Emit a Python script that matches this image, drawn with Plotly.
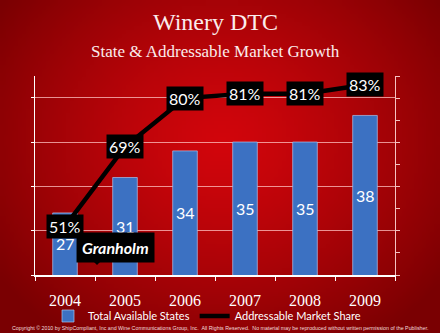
import base64
import struct
import zlib

import numpy as np
import plotly.graph_objects as go

# ---------------- data ----------------
years = ["2004", "2005", "2006", "2007", "2008", "2009"]
available_states = [27, 31, 34, 35, 35, 38]
market_share = [51, 69, 80, 81, 81, 83]

title_text = "Winery DTC"
subtitle_text = "State & Addressable Market Growth"
bar_name = "Total Available States"
line_name = "Addressable Market Share"
callout_text = "Granholm"
copyright_text = ("Copyright © 2010 by ShipCompliant, Inc and Wine Communications Group, Inc.  "
                  "All Rights Reserved.  No material may be reproduced without written permission of the Publisher.")

Y1_RANGE = [20, 42.45]
Y2_RANGE = [40, 85]

# ---------------- layout geometry ----------------
W, H = 440, 333
ML, MR, MT, MB = 35, 45, 76, 58
PW, PH = W - ML - MR, H - MT - MB


def px_x(x):
    return (x - ML) / PW


def px_y(y):
    return (H - MB - y) / PH


# radial red background as an inline PNG
def background_uri(w=110, h=84):
    yy, xx = np.mgrid[0:h, 0:w].astype(float)
    cx, cy = w * 0.5, h * 0.42
    d = np.sqrt(((xx - cx) / (w * 0.62)) ** 2 + ((yy - cy) / (h * 0.72)) ** 2)
    d = np.clip(d, 0, 1) ** 1.3
    inner = np.array([210, 6, 12], float)
    outer = np.array([122, 0, 2], float)
    img = (inner + (outer - inner) * d[..., None]).astype(np.uint8)
    raw = b"".join(b"\x00" + row.tobytes() for row in img)

    def chunk(tag, data):
        c = struct.pack(">I", len(data)) + tag + data
        return c + struct.pack(">I", zlib.crc32(tag + data) & 0xFFFFFFFF)

    png = (b"\x89PNG\r\n\x1a\n"
           + chunk(b"IHDR", struct.pack(">IIBBBBB", w, h, 8, 2, 0, 0, 0))
           + chunk(b"IDAT", zlib.compress(raw, 9))
           + chunk(b"IEND", b""))
    return "data:image/png;base64," + base64.b64encode(png).decode()


WHITE = "#ffffff"
SANS = "Lato, 'Open Sans', sans-serif"
SERIF = "'Liberation Serif', 'DejaVu Serif', serif"

fig = go.Figure()

fig.add_trace(go.Bar(
    x=years, y=available_states, name=bar_name,
    width=0.41,
    marker=dict(color="#3c71c2", line=dict(color="rgba(170,195,235,0.7)", width=1)),
))

fig.add_trace(go.Scatter(
    x=years, y=market_share, name=line_name, yaxis="y2",
    mode="lines", line=dict(color="black", width=4.5),
))

annotations = []
# bar value labels, centred in the visible part of each bar
for i, v in enumerate(available_states):
    annotations.append(dict(
        x=i, y=(Y1_RANGE[0] + v) / 2, xref="x", yref="y", text=str(v), showarrow=False,
        font=dict(color=WHITE, size=16, family=SANS),
    ))
# market share labels
for i, v in enumerate(market_share):
    annotations.append(dict(
        x=i, y=v, xref="x", yref="y2", text=f"{v}%", showarrow=False,
        bgcolor="black", borderpad=2,
        font=dict(color=WHITE, size=16, family=SANS),
    ))

annotations += [
    dict(x=0.5, y=px_y(22), xref="paper", yref="paper", text=title_text, showarrow=False,
         font=dict(color="#fbecec", size=24, family=SERIF), xanchor="center", yanchor="middle"),
    dict(x=0.5, y=px_y(52), xref="paper", yref="paper", text=subtitle_text, showarrow=False,
         font=dict(color="#fbecec", size=17, family=SERIF), xanchor="center", yanchor="middle"),
    dict(x=px_x(115), y=px_y(247), xref="paper", yref="paper",
         text=f"<b><i>{callout_text}</i></b>", showarrow=False,
         bgcolor="black", borderpad=5,
         font=dict(color=WHITE, size=16, family=SANS), xanchor="center", yanchor="middle"),
    dict(x=px_x(220), y=px_y(328), xref="paper", yref="paper", text=copyright_text,
         showarrow=False, font=dict(color="#f4dede", size=5.3, family="'Liberation Sans', Arial, sans-serif"),
         xanchor="center", yanchor="middle"),
]

shapes = [dict(
    type="path", xref="paper", yref="paper",
    path=f"M {px_x(91)} {px_y(259)} L {px_x(103)} {px_y(259)} L {px_x(97)} {px_y(265)} Z",
    fillcolor="black", line=dict(width=0),
)]

fig.update_layout(
    width=W, height=H,
    margin=dict(l=ML, r=MR, t=MT, b=MB, pad=0, autoexpand=False),
    paper_bgcolor="#a80006", plot_bgcolor="rgba(0,0,0,0)",
    showlegend=True,
    legend=dict(orientation="h", x=px_x(207), xanchor="center", y=px_y(316), yanchor="middle",
                font=dict(color=WHITE, size=11, family=SANS), bgcolor="rgba(0,0,0,0)",
                itemwidth=30, traceorder="normal", tracegroupgap=0),
    bargap=0.5,
    xaxis=dict(
        type="category", tickangle=0, range=[-0.5, len(years) - 0.5],
        showline=True, linecolor=WHITE, linewidth=1.5,
        ticks="outside", tickson="boundaries", ticklen=4, tickcolor=WHITE, tickwidth=1,
        tickfont=dict(color=WHITE, size=16, family=SERIF),
        ticklabelstandoff=10, showgrid=False, fixedrange=True, automargin=False,
    ),
    yaxis=dict(
        range=Y1_RANGE, tick0=20, dtick=5, showticklabels=False,
        showgrid=True, gridcolor="rgba(255,195,195,0.75)", gridwidth=1,
        showline=True, linecolor=WHITE, linewidth=1.2,
        ticks="outside", ticklen=3, tickcolor=WHITE, zeroline=False, automargin=False,
    ),
    yaxis2=dict(
        range=Y2_RANGE, tick0=40, dtick=5, overlaying="y", side="right",
        showticklabels=False, showgrid=False,
        showline=True, linecolor="rgba(255,215,215,0.9)", linewidth=1.2,
        ticks="outside", ticklen=4, tickcolor="rgba(255,215,215,0.9)", zeroline=False,
        automargin=False,
    ),
    annotations=annotations,
    shapes=shapes,
    images=[dict(
        source=background_uri(), xref="paper", yref="paper",
        x=-ML / PW, y=1 + MT / PH, sizex=W / PW, sizey=H / PH,
        xanchor="left", yanchor="top", sizing="stretch", layer="below",
    )],
)

fig.write_html("out.html", config={"displayModeBar": False})
